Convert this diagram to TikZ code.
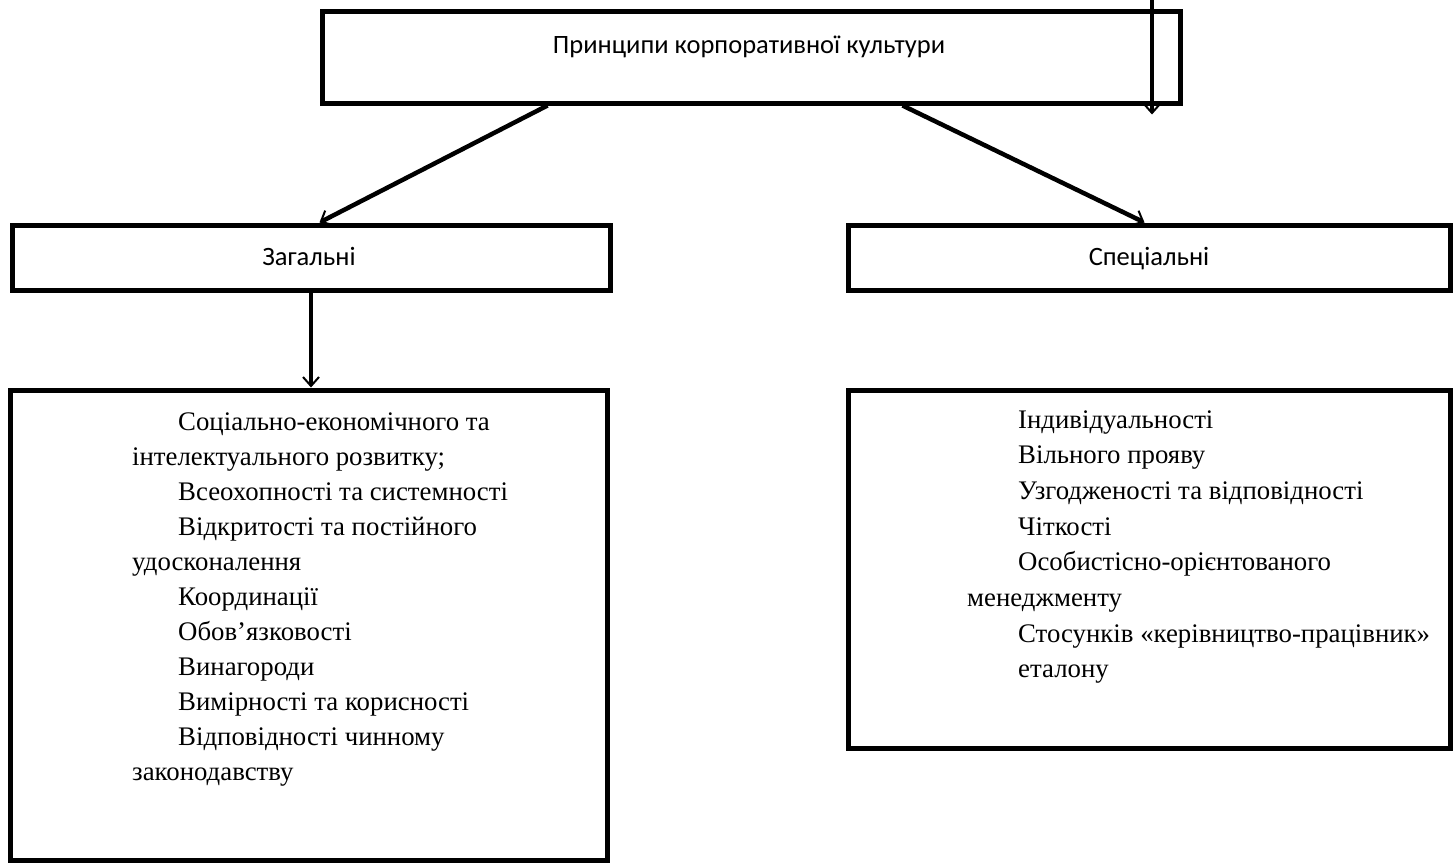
\documentclass[tikz,border=0pt]{standalone}
\usepackage{fontspec}
\setmainfont{Liberation Serif}
\newfontfamily\headfont{Carlito}
\usetikzlibrary{arrows.meta}
\tikzset{
  frame/.style={draw=black, line width=5pt, inner sep=0pt},
  link/.style={draw=black, line width=4.5pt, line cap=butt,
    -{Straight Barb[length=9pt,width=16pt,line width=2pt]}},
  headtxt/.style={font=\headfont\fontsize{26.5}{30}\selectfont, inner sep=0pt, anchor=base},
  bodytxt/.style={font=\fontsize{26.8}{30}\selectfont, inner sep=0pt, anchor=base west}
}
\begin{document}
\begin{tikzpicture}[x=1pt,y=-1pt]
\useasboundingbox[fill=white] (0,0) rectangle (1456,863);

% boxes
\node[frame, minimum width=858pt, minimum height=92pt] (top) at (751,57) {};
\node[frame, minimum width=598pt, minimum height=65pt] (zag) at (311,257.5) {};
\node[frame, minimum width=602pt, minimum height=65pt] (spec) at (1149,257.5) {};
\node[frame, minimum width=597pt, minimum height=470pt] (left) at (308.5,625) {};
\node[frame, minimum width=602pt, minimum height=358pt] (right) at (1149,569) {};

% headings
\node[headtxt] (ttl) at (749,53) {Принципи корпоративної культури};
\node[headtxt] (zagtxt) at (309,265) {Загальні};
\node[headtxt] (spectxt) at (1149,265) {Спеціальні};

% connectors
\coordinate (feed) at (1152,0);
\draw[link] (feed) -- ([yshift=-9pt]feed |- top.south);
\draw[link] ([xshift=228pt]top.south west) -- ([xshift=310pt]zag.north west);
\draw[link] ([xshift=583pt]top.south west) -- ([xshift=299pt]spec.north west);
\draw[link, line width=3.5pt] (zag.south) -- (zag.south |- left.north);

% general principles
\foreach \x/\s [count=\i from 0] in {
  178/Соціально-економічного та,
  132/інтелектуального розвитку;,
  178/Всеохопності та системності,
  178/Відкритості та постійного,
  132/удосконалення,
  178/Координації,
  178/Обов’язковості,
  178/Винагороди,
  178/Вимірності та корисності,
  178/Відповідності чинному,
  132/законодавству} {
  \node[bodytxt] (gen\i) at (\x,430+35*\i) {\s};
}

% special principles
\foreach \x/\s [count=\i from 0] in {
  1018/Індивідуальності,
  1018/Вільного прояву,
  1018/Узгодженості та відповідності,
  1018/Чіткості,
  1018/Особистісно-орієнтованого,
  967/менеджменту,
  1018/Стосунків «керівництво-працівник»,
  1018/еталону} {
  \node[bodytxt] (spc\i) at (\x,428+35.7*\i) {\s};
}
\end{tikzpicture}
\end{document}
